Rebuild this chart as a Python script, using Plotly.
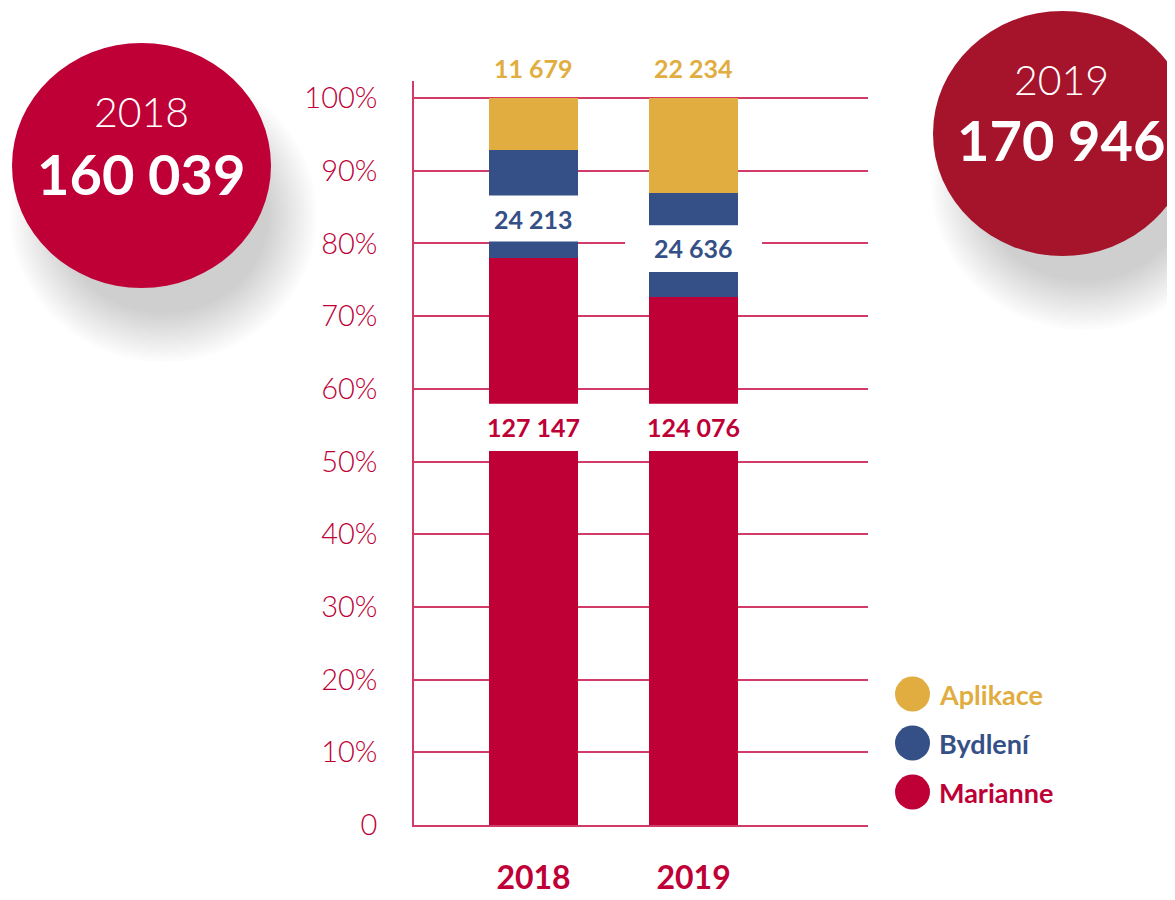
import plotly.graph_objects as go

# ---- data ----
years = ["2018", "2019"]
series_names = ["Marianne", "Bydlení", "Aplikace"]
marianne = [127147, 124076]
bydleni = [24213, 24636]
aplikace = [11679, 22234]
totals = [160039, 170946]
colors = {"Marianne": "#be0037", "Bydlení": "#345087", "Aplikace": "#e1ad40"}
tick_vals = [0, 10, 20, 30, 40, 50, 60, 70, 80, 90, 100]
tick_text = ["0", "10%", "20%", "30%", "40%", "50%", "60%", "70%", "80%", "90%", "100%"]

RED = "#be0037"
GRID = "#d23b68"
FONT = "Lato"

# page is offset by the 8px body margin
OFF = 8
W, H = 1175, 900
L, R, T, B = 414, 868, 81, 825  # plot area in page pixels
PW, PH = R - L, B - T


def px(x):
    return (x - L) / PW


def py(y):
    return (B - y) / PH


def fmt(v):
    return f"{v:,}".replace(",", " ")


values = {"Marianne": marianne, "Bydlení": bydleni, "Aplikace": aplikace}

fig = go.Figure()
for name in series_names:
    fig.add_trace(go.Bar(
        x=years, y=values[name], name=name, width=0.556,
        marker=dict(color=colors[name], line=dict(width=0)),
        showlegend=False, hoverinfo="skip",
    ))

shapes = []
annotations = []

# circles with soft shadows
circles = [
    dict(x0=12, x1=271, y0=43, y1=288, color="#be0037", year="2018", total=totals[0],
         cx=141, ty=112, tt=173),
    dict(x0=933, x1=1192, y0=11, y1=256, color="#a5142b", year="2019", total=totals[1],
         cx=1061, ty=80, tt=139),
]
for c in circles:
    dx, dy, blur, n = 22, 50, 24, 16
    for i in range(n):
        e = blur - 2 * blur * i / (n - 1)
        shapes.append(dict(
            type="circle", xref="paper", yref="paper", layer="below",
            x0=px(c["x0"] + dx - e), x1=px(c["x1"] + dx + e),
            y0=py(c["y1"] + dy + e), y1=py(c["y0"] + dy - e),
            fillcolor="rgba(0,0,0,0.010)", line=dict(width=0),
        ))
    shapes.append(dict(
        type="circle", xref="paper", yref="paper", layer="below",
        x0=px(c["x0"]), x1=px(c["x1"]), y0=py(c["y1"]), y1=py(c["y0"]),
        fillcolor=c["color"], line=dict(width=0),
    ))
    annotations.append(dict(
        xref="paper", yref="paper", x=px(c["cx"]), y=py(c["ty"]), text=c["year"],
        showarrow=False, xanchor="center", yanchor="middle",
        font=dict(family=FONT, size=41, color="white", weight=300),
    ))
    annotations.append(dict(
        xref="paper", yref="paper", x=px(c["cx"]), y=py(c["tt"]), text=fmt(c["total"]),
        showarrow=False, xanchor="center", yanchor="middle",
        font=dict(family=FONT, size=56, color="white", weight=700),
    ))

# white gaps behind in-bar labels
gaps = [
    (-0.31, 0.31, 80.25, 86.6),   # 2018 Bydlení
    (0.572, 1.428, 76.06, 82.5),  # 2019 Bydlení
    (-0.31, 0.31, 51.44, 57.95),  # 2018 Marianne
    (0.69, 1.31, 51.44, 57.95),   # 2019 Marianne
]
for x0, x1, y0, y1 in gaps:
    shapes.append(dict(type="rect", xref="x", yref="y", layer="above",
                       x0=x0, x1=x1, y0=y0, y1=y1,
                       fillcolor="white", line=dict(width=0)))

# data labels
label_y = {"Bydlení": [83.3, 79.3], "Marianne": [54.7, 54.7]}
for i, yr in enumerate(years):
    annotations.append(dict(
        x=i, y=100, yshift=30, text=fmt(aplikace[i]), showarrow=False,
        xanchor="center", yanchor="middle",
        font=dict(family=FONT, size=25, color=colors["Aplikace"], weight=700)))
    for nm in ["Bydlení", "Marianne"]:
        annotations.append(dict(
            x=i, y=label_y[nm][i], text=fmt(values[nm][i]), showarrow=False,
            xanchor="center", yanchor="middle",
            font=dict(family=FONT, size=25, color=colors[nm], weight=700)))

# custom legend
legend_y = {"Aplikace": 694, "Bydlení": 743, "Marianne": 792}
for nm in ["Aplikace", "Bydlení", "Marianne"]:
    yc = legend_y[nm]
    shapes.append(dict(type="circle", xref="paper", yref="paper", layer="above",
                       x0=px(895), x1=px(930), y0=py(yc + 17.5), y1=py(yc - 17.5),
                       fillcolor=colors[nm], line=dict(width=0)))
    annotations.append(dict(
        xref="paper", yref="paper", x=px(937), y=py(yc), text=nm, showarrow=False,
        xanchor="left", yanchor="middle",
        font=dict(family=FONT, size=27, color=colors[nm], weight=700)))

fig.update_layout(
    width=W - OFF, height=H - OFF,
    margin=dict(l=L - OFF, r=W - R, t=T - OFF, b=H - B, pad=0, autoexpand=False),
    paper_bgcolor="white", plot_bgcolor="white",
    barmode="stack", barnorm="percent",
    shapes=shapes, annotations=annotations,
    showlegend=False,
    xaxis=dict(
        type="category", range=[-0.747, 2.09], automargin=False,
        showgrid=False, zeroline=False,
        showline=True, linecolor=GRID, linewidth=1.5,
        ticks="", ticklabelstandoff=24,
        tickfont=dict(family=FONT, size=32, color=RED, weight=700),
    ),
    yaxis=dict(
        range=[0, 100 * PH / 727], automargin=False,
        tickvals=tick_vals, ticktext=tick_text,
        showgrid=True, gridcolor=GRID, gridwidth=1.5,
        zeroline=False, showline=True, linecolor=GRID, linewidth=1.5,
        ticks="", ticklabelstandoff=29,
        tickfont=dict(family=FONT, size=29, color=RED, weight=300),
    ),
)

fig.write_html("out.html")
